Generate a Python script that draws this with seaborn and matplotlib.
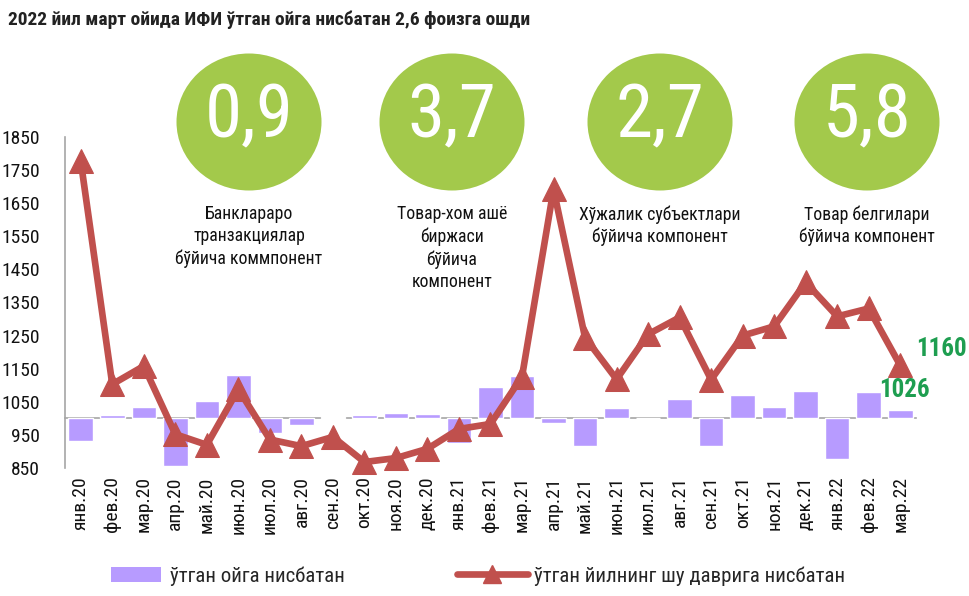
import numpy as np
import pandas as pd
import seaborn as sns
import matplotlib
matplotlib.use("Agg")
import matplotlib.pyplot as plt
from matplotlib.patches import Patch, Ellipse
from matplotlib.lines import Line2D

# ---- data ----
months = ['янв.20', 'фев.20', 'мар.20', 'апр.20', 'май.20', 'июн.20', 'июл.20',
          'авг.20', 'сен.20', 'окт.20', 'ноя.20', 'дек.20', 'янв.21', 'фев.21',
          'мар.21', 'апр.21', 'май.21', 'июн.21', 'июл.21', 'авг.21', 'сен.21',
          'окт.21', 'ноя.21', 'дек.21', 'янв.22', 'фев.22', 'мар.22']
month_on_month = [932, 1011, 1034, 857, 1051, 1131, 957, 981, 1004, 1010, 1016, 1014,
                  927, 1096, 1127, 985, 915, 1031, 1000, 1058, 915, 1071, 1034, 1084,
                  877, 1081, 1026]
year_on_year = [1777, 1103, 1158, 952, 920, 1088, 936, 916, 944, 868, 880, 908,
                968, 983, 1126, 1692, 1244, 1118, 1254, 1305, 1117, 1250, 1278, 1411,
                1308, 1332, 1160]
y_ticks = [850, 950, 1050, 1150, 1250, 1350, 1450, 1550, 1650, 1750, 1850]
baseline = 1000
bubble_values = ['0,9', '3,7', '2,7', '5,8']
bubble_captions = ['Банклараро\nтранзакциялар\nбўйича коммпонент',
                   'Товар-хом ашё\nбиржаси\nбўйича\nкомпонент',
                   'Хўжалик субъектлари\nбўйича компонент',
                   'Товар белгилари\nбўйича компонент']
title = '2022 йил март ойида ИФИ ўтган ойга нисбатан 2,6 фоизга ошди'
legend_bar = 'ўтган ойга нисбатан'
legend_line = 'ўтган йилнинг шу даврига нисбатан'

BAR_C = '#B79BFF'
LINE_C = '#C0504D'
GREEN_C = '#A3C94B'
LABEL_G = '#1E9E50'
GREY = '#A6A6A6'

sns.set_style('white')
plt.rcParams['font.family'] = ['Roboto Condensed', 'DejaVu Sans']

fig = plt.figure(figsize=(9.69, 5.96), dpi=100)
ax = fig.add_axes([65 / 969, 1 - 468 / 596, (916 - 65) / 969, (468 - 137) / 596])

df = pd.DataFrame({'month': months,
                   'mom': month_on_month,
                   'yoy': year_on_year})
df['pos'] = np.arange(len(df))
df['dev'] = df['mom'] - baseline

sns.barplot(data=df, x='pos', y='dev', bottom=baseline, color=BAR_C,
            saturation=1, width=0.78, ax=ax, zorder=2, native_scale=True)
sns.lineplot(data=df, x='pos', y='yoy', color=LINE_C, lw=4.8, marker='^',
             markersize=17, markeredgecolor=LINE_C, ax=ax, zorder=3, clip_on=False)

n = len(df)
ax.set_xlim(-0.5, n - 0.5)
ax.set_ylim(y_ticks[0], y_ticks[-1])
ax.set_yticks(y_ticks)
ax.set_yticklabels([str(t) for t in y_ticks], fontsize=14)
ax.set_ylabel('')
ax.set_xlabel('')

# spines
for s in ['top', 'right']:
    ax.spines[s].set_visible(False)
ax.spines['left'].set_color(GREY)
ax.spines['left'].set_linewidth(1.2)
ax.spines['bottom'].set_position(('data', baseline))
ax.spines['bottom'].set_color(GREY)
ax.spines['bottom'].set_linewidth(1.2)
ax.spines['bottom'].set_zorder(1)
ax.tick_params(axis='y', direction='out', length=6, color=GREY, width=1.2, pad=12,
               labelcolor='#111111')
ax.set_xticks(np.arange(n + 1) - 0.5)
ax.set_xticklabels([])
ax.tick_params(axis='x', direction='out', length=5, color=GREY, width=1.2)

sec = ax.secondary_xaxis(0.0)
sec.set_xticks(np.arange(n))
sec.set_xticklabels(months, rotation=90, fontsize=14, color='#111111')
sec.tick_params(length=0, pad=6)
sec.spines['bottom'].set_visible(False)

# end labels
ax.annotate(str(year_on_year[-1]), xy=(n - 1, year_on_year[-1]), xytext=(30, 12),
            textcoords='offset points', ha='center', va='center', fontsize=18,
            fontweight='bold', color=LABEL_G, annotation_clip=False)
ax.annotate(str(month_on_month[-1]), xy=(n - 1, year_on_year[-1]), xytext=(3, -18),
            textcoords='offset points', ha='center', va='center', fontsize=18,
            fontweight='bold', color=LABEL_G, annotation_clip=False)

# bubbles
bubble_x = [249, 452, 660, 867]
for bx, val, cap in zip(bubble_x, bubble_values, bubble_captions):
    fx = bx / 969
    e = Ellipse((fx, 1 - 122 / 596), 145 / 969, 137 / 596, transform=fig.transFigure,
                facecolor=GREEN_C, edgecolor='none', zorder=0)
    fig.patches.append(e)
    fig.text(fx, 1 - 117 / 596, val, ha='center', va='center', color='white',
             fontsize=54)
    fig.text(fx, 1 - 205 / 596, cap, ha='center', va='top', fontsize=12.8,
             linespacing=1.3, color='#111111')

fig.text(8 / 969, 1 - 20 / 596, title, ha='left', va='center', fontsize=14,
         fontweight='bold', color='#222222')

# legends
h1 = Patch(facecolor=BAR_C, edgecolor='none')
h2 = Line2D([], [], color=LINE_C, lw=4.8, marker='^', markersize=13)
leg1 = fig.legend([h1], [legend_bar], loc='center left',
                  bbox_to_anchor=(92 / 969, 1 - 576 / 596), frameon=False,
                  fontsize=15, handlelength=2.4, handleheight=0.75, handletextpad=0.45)
leg2 = fig.legend([h2], [legend_line], loc='center left',
                  bbox_to_anchor=(438 / 969, 1 - 576 / 596), frameon=False,
                  fontsize=15, handlelength=3.4, handletextpad=0.3)

fig.savefig('out.png', dpi=100)
